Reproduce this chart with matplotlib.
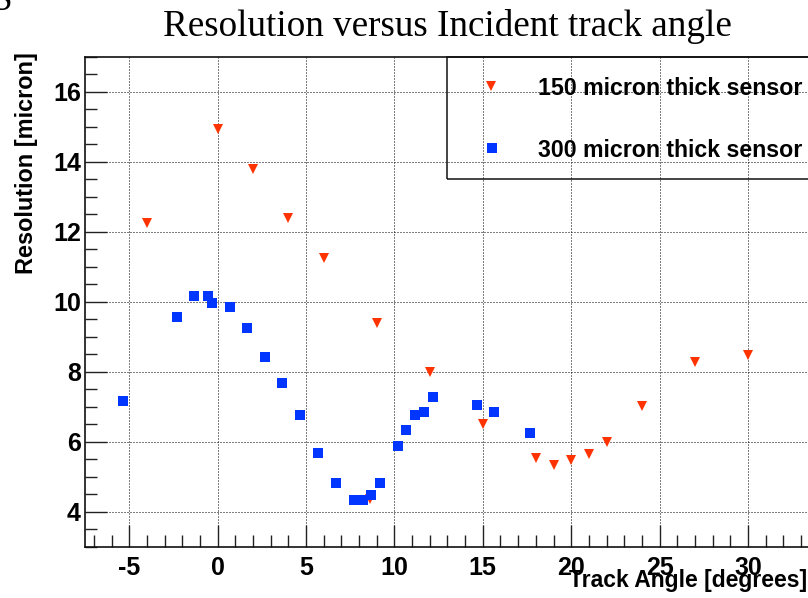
import matplotlib
matplotlib.use("Agg")
import matplotlib.pyplot as plt
from matplotlib.lines import Line2D
from matplotlib.patches import Rectangle
from matplotlib.ticker import MultipleLocator

plt.rcParams['axes.unicode_minus'] = False
plt.rcParams['lines.scale_dashes'] = False
plt.rcParams['font.family'] = ['Liberation Sans', 'DejaVu Sans']

# ---------------- data ----------------
title = "Resolution versus Incident track angle"
xlabel = "Track Angle [degrees]"
ylabel = "Resolution [micron]"
label_150 = "150 micron thick sensor"
label_300 = "300 micron thick sensor"

angle_150 = [-4.0, 0.0, 2.0, 4.0, 6.0, 8.6, 9.0, 12.0, 15.0, 18.0, 19.0, 20.0,
             21.0, 22.0, 24.0, 27.0, 30.0]
res_150 = [12.25, 14.92, 13.80, 12.38, 11.26, 4.35, 9.40, 8.00, 6.51, 5.53, 5.34,
           5.47, 5.66, 6.00, 7.02, 8.29, 8.47]

angle_300 = [-5.34, -2.32, -1.34, -0.53, -0.30, 0.71, 1.68, 2.69, 3.64, 4.68,
             5.69, 6.68, 7.70, 8.20, 8.66, 9.19, 10.20, 10.66, 11.17, 11.68,
             12.18, 14.67, 15.64, 17.69]
res_300 = [7.16, 9.57, 10.16, 10.16, 9.97, 9.86, 9.24, 8.42, 7.67, 6.75,
           5.67, 4.81, 4.33, 4.33, 4.47, 4.81, 5.89, 6.33, 6.75, 6.86,
           7.27, 7.05, 6.86, 6.24]

xticks = [-5, 0, 5, 10, 15, 20, 25, 30, 35]
yticks = [4, 6, 8, 10, 12, 14, 16]

RED = '#ff3300'
BLUE = '#0036ff'

# ---------------- layout ----------------
W, H = 808, 598
fig = plt.figure(figsize=(W / 100, H / 100), dpi=100)


def fx(px):
    return px / W


def fy(py):
    return 1 - py / H


x_lo, x_hi = -7.5, 35.0
y_lo, y_hi = 3.0, 17.0
left_px, top_px, bot_px = 85.0, 56.7, 546.7
px_per_x = 17.68
right_px = left_px + (x_hi - x_lo) * px_per_x

ax = fig.add_axes([fx(left_px), fy(bot_px), (right_px - left_px) / W,
                   (bot_px - top_px) / H])
ax.set_xlim(x_lo, x_hi)
ax.set_ylim(y_lo, y_hi)

ax.plot(angle_150, res_150, linestyle='none', marker='v', markersize=7.6,
        color=RED, markeredgewidth=0, zorder=3)
ax.plot(angle_300, res_300, linestyle='none', marker='s', markersize=7.8,
        color=BLUE, markeredgewidth=0, zorder=4)

ax.set_xticks(xticks)
ax.set_yticks(yticks)
ax.xaxis.set_minor_locator(MultipleLocator(1))
ax.yaxis.set_minor_locator(MultipleLocator(0.5))
ax.tick_params(which='major', direction='in', length=15.6, width=1.0,
               top=False, right=False, labelsize=18, color='#222222')
ax.tick_params(axis='x', which='major', pad=7)
ax.tick_params(axis='y', which='major', pad=3)
ax.tick_params(which='minor', direction='in', length=8.4, width=1.0,
               top=False, right=False, color='#222222')
for lab in ax.get_xticklabels() + ax.get_yticklabels():
    lab.set_fontweight('bold')

for s in ['left', 'bottom', 'top', 'right']:
    ax.spines[s].set_linewidth(1.2)
    ax.spines[s].set_color('#111111')

ax.grid(which='major', color='black', linestyle=(0, (0.72, 1.44)),
        linewidth=0.72)
ax.set_axisbelow(True)

# texts
t_title = fig.text(fx(447.5), fy(36), title, family='Liberation Serif',
                   fontsize=23, ha='center', va='baseline')
t_ylab = fig.text(fx(27), fy(52), ylabel, fontsize=14, fontweight='bold',
                  rotation=90, ha='center', va='top')
t_xlab = fig.text(fx(807), fy(587), xlabel, fontsize=14, fontweight='bold',
                  ha='right', va='baseline')
t_l1 = fig.text(fx(538), fy(95), label_150, fontsize=17, fontweight='bold',
                ha='left', va='baseline')
t_l2 = fig.text(fx(538), fy(157.3), label_300, fontsize=17, fontweight='bold',
                ha='left', va='baseline')
frag = fig.text(fx(-9), fy(10), 'S', family='Liberation Serif', fontsize=23,
                ha='left', va='baseline')

fig.canvas.draw()
r = fig.canvas.get_renderer()


def fit(t, target, use_height=False):
    bb = t.get_window_extent(r)
    cur = bb.height if use_height else bb.width
    t.set_fontsize(t.get_fontsize() * target / cur)


fit(t_title, 571)
fit(t_ylab, 223, use_height=True)
fit(t_xlab, 239)
fit(t_l1, 265)
t_l2.set_fontsize(t_l1.get_fontsize())
frag.set_fontsize(t_title.get_fontsize())

# legend box and markers
fig.add_artist(Rectangle((fx(447), fy(178.5)), (950 - 447) / W,
                         (178.5 - 56.7) / H, transform=fig.transFigure,
                         fill=False, edgecolor='#111111', linewidth=1.1))
fig.add_artist(Line2D([fx(491)], [fy(85.5)], transform=fig.transFigure,
                      marker='v', markersize=7.6, color=RED,
                      markeredgewidth=0, linestyle='none'))
fig.add_artist(Line2D([fx(491.7)], [fy(148.3)], transform=fig.transFigure,
                      marker='s', markersize=7.8, color=BLUE,
                      markeredgewidth=0, linestyle='none'))

fig.savefig('out.png', dpi=100)
